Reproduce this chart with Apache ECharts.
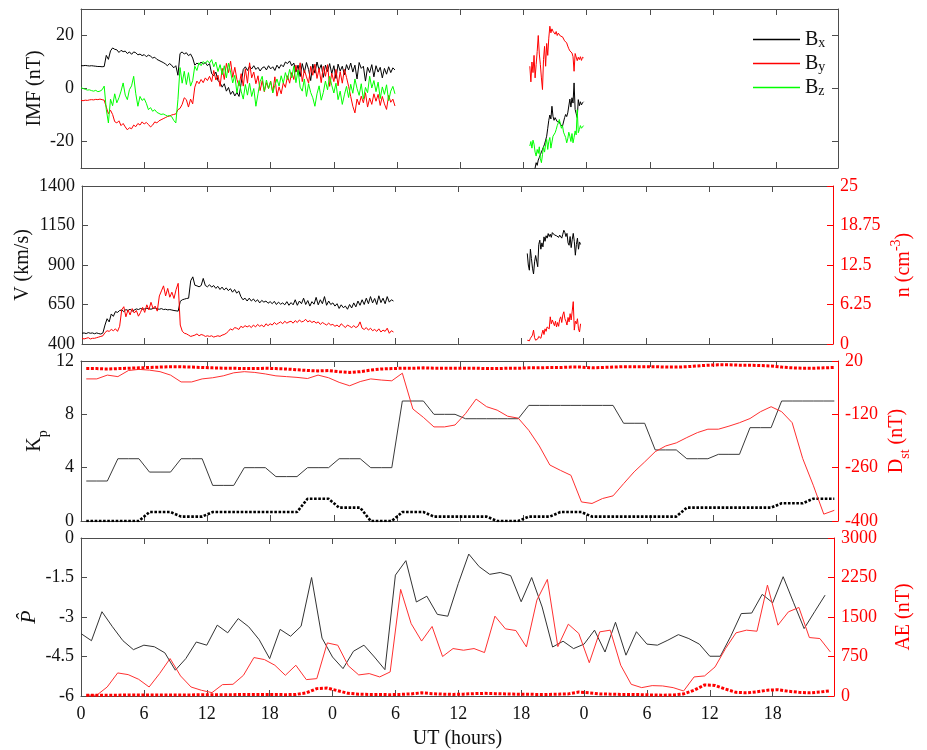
<!DOCTYPE html>
<html>
<head>
<meta charset="utf-8">
<script src="https://cdn.jsdelivr.net/npm/echarts@6/dist/echarts.min.js"></script>
<style>
  html, body { margin: 0; padding: 0; background: #fff; }
  #chart { width: 927px; height: 750px; }
</style>
</head>
<body>
<div id="chart"></div>
<script>
// ---------------- data ----------------
// High-resolution solar wind: first interval sampled every 0.2 h from 0 h,
// second interval sampled every 0.1 h from 42.6 h (UT hours since start).
const seg1Start = 0, seg1Step = 0.2;
const seg2Start = 42.6, seg2Step = 0.1;

// IMF Bx (nT)
const bx1 = [
  8.6, 8.6, 8.7, 8.6, 8.5, 8.6, 8.5, 8.4, 8.3, 8.3,
  8.2, 8.3, 12.5, 11.0, 14.2, 15.3, 14.8, 14.6, 13.6, 14.4,
  13.9, 14.1, 13.2, 13.8, 12.9, 13.8, 13.5, 12.7, 13.0, 12.4,
  12.8, 12.0, 12.6, 12.2, 11.5, 11.8, 11.0, 10.6, 10.2, 9.8,
  9.3, 8.6, 9.4, 8.8, 7.8, 8.6, 5.0, 13.2, 13.8, 13.0,
  13.5, 12.4, 13.0, 11.5, 8.8, 9.6, 9.0, 10.0, 9.2, 9.8,
  8.6, 9.4, 5.6, 4.8, 6.2, 3.0, 2.2, 0.5, 1.8, -1.0,
  0.4, -2.2, -1.0, -2.8, -1.5, -3.0, 2.0, 7.2, 8.2, 6.8,
  8.4, 7.4, 8.6, 7.2, 8.0, 6.6, 7.8, 8.2, 7.0, 8.6,
  7.4, 8.2, 6.8, 8.8, 7.6, 9.0, 8.2, 10.0, 9.4, 10.4,
  8.6, 9.6, 6.2, 8.8, 4.5, 9.4, 6.0, 9.8, 7.2, 3.0,
  9.2, 5.8, 10.0, 7.0, 9.0, 4.2, 8.8, 6.4, 9.4, 5.6,
  8.6, 3.8, 9.2, 6.6, 8.4, 5.2, 9.0, 7.0, 9.6, 6.2,
  8.8, 3.6, 9.8, 7.6, 8.4, 2.8, 8.0, 6.0, 9.0, 4.4,
  8.6, 6.2, 8.0, 4.0, 7.6, 5.4, 8.2, 6.0, 7.8, 7.0
];
const bx2 = [
  -36, -35, -33, -32, -31, -30, -28, -29, -27, -26,
  -25, -24, -23, -22, -21, -19.5, -18, -15, -12, -10,
  -11.5, -6.7, -10.5, -12.0, -11.0, -11.7, -12.5, -13.0, -12.6, -13.6,
  -13.0, -14.2, -13.5, -11.0, -9.8, -10.6, -9.2, -8.5, -4.0, -7.0,
  -3.5, -5.5, 2.1, -7.9, -9.5, -11.0, -4.2, -6.5, -5.0, -6.2,
  -5.4, -5.0
];

// IMF By (nT)
const by1 = [
  -4.5, -4.6, -4.4, -4.5, -4.3, -4.2, -4.3, -4.1, -4.2, -4.0,
  -4.2, -4.4, -7.0, -9.5, -8.2, -9.8, -12.5, -13.0, -12.2, -14.0,
  -13.2, -14.5, -15.6, -14.8, -15.2, -13.8, -14.4, -13.2, -13.8, -12.6,
  -13.4, -12.8, -13.6, -14.5, -13.8, -12.6, -13.0, -12.2, -11.8, -11.4,
  -11.0, -10.6, -10.4, -10.0, -9.8, -9.6, -8.0, -7.5, -6.0, -3.5,
  -4.2, -7.0, -4.0, -5.8, 0.5, 2.8, 1.8, 3.4, 2.2, 4.0,
  3.0, 4.6, 2.6, 6.8, 3.2, 5.0, 0.8, 7.6, 3.4, 9.5,
  6.0, 10.3, 4.2, 8.0, 3.4, 1.0, 5.6, 0.9, 7.4, 2.0,
  9.7, 4.0, 6.2, 1.8, 4.8, -0.8, 3.0, -1.2, 2.2, 0.0,
  2.8, -1.5, 4.4, -2.9, 0.6, -2.0, 2.1, 0.4, 4.8, 2.0,
  6.0, 3.4, 8.8, 5.2, 9.7, 2.6, 7.0, 4.4, 2.0, 8.4,
  5.0, 9.2, 3.8, 7.6, 2.2, 8.4, 4.6, 9.0, 0.8, 5.8,
  2.6, 7.2, 1.0, 6.4, 2.0, 7.2, 4.2, 0.8, -3.0, -6.7,
  -9.2, -4.0, -6.2, -2.9, -5.4, -1.6, -7.0, -3.6, -6.0, -2.0,
  -4.8, -2.2, -6.4, -3.0, -5.8, -7.9, -2.6, -5.2, -4.0, -6.6
];
const by2 = [
  8.4, 2.5, 10.0, 6.0, 12.5, 4.0, 9.0, 14.0, 20.0, 13.0,
  9.0, 4.0, -0.4, 11.0, 15.9, 8.4, 17.0, 12.5, 19.0, 23.5,
  21.0, 22.5, 21.6, 22.0, 20.5, 21.5, 20.0, 20.9, 21.2, 19.8,
  20.4, 19.5, 18.8, 18.0, 17.5, 17.2, 16.0, 15.0, 14.2, 13.6,
  13.4, 12.0, 6.5, 13.2, 12.8, 10.5, 11.8, 10.9, 12.0, 10.6,
  11.8, 11.6
];

// IMF Bz (nT)
const bz1 = [
  0.3, 0.0, -0.3, -0.6, -0.5, -0.8, -1.0, -0.7, -1.2, -1.0,
  -0.5, 0.9, -7.9, -13.0, -4.0, -6.5, -2.0, -5.4, -3.5, -1.0,
  2.1, -2.5, -4.2, -0.4, 1.0, 4.6, -2.0, -6.7, -3.0, -4.5,
  -3.8, -5.6, -8.0, -7.2, -8.6, -8.0, -9.0, -9.4, -9.8, -9.6,
  -10.0, -10.4, -10.2, -10.6, -12.0, -13.0, -4.2, 7.9, 2.0, 6.5,
  1.5, 6.0, 0.9, 3.0, 8.4, 6.8, 9.7, 8.6, 10.2, 9.4,
  10.5, 9.6, 10.9, 8.2, 10.0, 6.4, 9.0, 5.2, 8.6, 4.0,
  9.6, 6.2, 2.1, 5.0, -1.7, 3.0, -1.0, -4.0, 1.5, -2.5,
  2.0, -3.0, 0.0, -6.7, -2.0, 2.6, 4.6, -1.0, 3.2, 0.0,
  2.6, -1.7, 1.2, 3.6, 0.9, 4.8, 2.0, 6.0, 3.4, 7.2,
  4.0, 8.4, 2.2, 7.0, 0.5, -1.0, 3.6, -3.0, 1.8, -1.5,
  -3.5, -6.7, -2.0, 1.0, -4.4, -1.5, 2.8, -0.5, 4.6, 1.2,
  -1.7, 2.0, -4.2, -1.0, -6.0, -2.4, 0.8, -3.4, 1.6, -1.8,
  3.6, 0.0, -2.6, 1.8, -4.0, 0.4, -1.6, 4.6, 0.2, 3.0,
  -1.2, 2.4, -3.8, 0.6, -2.2, 1.4, -4.6, -1.0, 0.8, -2.0
];
const bz2 = [
  -21.7, -20.0, -22.5, -19.5, -21.0, -24.0, -25.5, -23.0, -24.5, -22.0,
  -26.5, -28.0, -25.0, -22.0, -24.0, -21.0, -19.2, -23.0, -20.0, -18.5,
  -22.5, -23.0, -18.0, -17.5, -16.7, -15.5, -14.0, -13.0, -11.7, -13.5,
  -15.0, -14.0, -16.5, -17.5, -18.5, -20.5, -19.0, -16.5, -18.0, -20.0,
  -17.0, -20.5, -18.5, -16.0, -17.5, -8.0, -16.7, -15.5, -14.0, -15.0,
  -14.7, -14.0
];

// Solar wind speed V (km/s)
const v1 = [
  468, 470, 466, 472, 468, 470, 465, 470, 466, 463,
  470, 520, 560, 540, 590, 575, 605, 600, 612, 615,
  605, 618, 612, 620, 608, 615, 622, 618, 625, 620,
  622, 626, 624, 620, 625, 628, 622, 620, 624, 618,
  620, 616, 618, 615, 612, 610, 608, 670, 680, 684,
  688, 690, 800, 825, 772, 768, 762, 770, 815, 770,
  762, 775, 760, 770, 752, 765, 745, 760, 742, 755,
  738, 750, 728, 745, 722, 735, 700, 680, 690, 672,
  690, 672, 685, 668, 680, 660, 676, 665, 672, 658,
  668, 655, 670, 650, 665, 652, 660, 648, 668, 645,
  662, 648, 680, 645, 672, 655, 690, 650, 675, 640,
  668, 652, 695, 648, 680, 655, 700, 645, 672, 650,
  660, 640, 655, 625, 648, 630, 640, 620, 650, 628,
  660, 635, 672, 645, 680, 650, 690, 655, 700, 660,
  688, 650, 705, 662, 690, 655, 700, 665, 680, 672
];
const v2 = [
  973, 900, 867, 1000, 940, 880, 843, 920, 960, 952,
  889, 1030, 1057, 1000, 1040, 1015, 1078, 1050, 1085, 1070,
  1099, 1080, 1095, 1075, 1105, 1110, 1090, 1100, 1085, 1095,
  1075, 1089, 1100, 1070, 1095, 1120, 1105, 1080, 1100, 1040,
  1025, 1080, 1010, 1060, 1100, 1050, 962, 1030, 1070, 1000,
  1046, 1030
];

// Proton density n (cm^-3)
const n1 = [
  0.9, 0.8, 0.9, 1.0, 0.8, 0.9, 0.9, 1.0, 1.1, 1.2,
  1.3, 1.8, 2.1, 2.0, 2.3, 2.1, 2.4, 2.0, 2.8, 5.4,
  5.9, 4.3, 5.4, 4.6, 5.6, 4.9, 5.3, 4.4, 5.0, 5.8,
  5.0, 6.2, 5.4, 6.6, 5.6, 6.0, 5.2, 7.6, 8.4, 9.2,
  7.6, 8.8, 7.4, 8.2, 7.2, 8.6, 9.6, 3.0, 2.0, 1.7,
  1.6, 1.4, 1.2, 1.3, 1.4, 1.6, 1.3, 1.5, 1.4, 1.2,
  1.3, 1.2, 1.3, 1.1, 1.2, 1.3, 1.2, 1.4, 1.5, 1.7,
  2.0, 2.4, 2.2, 2.6, 2.5, 2.3, 2.8, 2.6, 2.9, 2.7,
  2.9, 2.6, 3.0, 2.7, 3.1, 2.8, 3.0, 2.7, 3.2, 2.9,
  3.2, 3.0, 3.4, 3.1, 3.3, 3.5, 3.2, 3.6, 3.3, 3.5,
  3.6, 3.3, 3.7, 3.4, 3.8, 3.5, 3.6, 3.9, 3.5, 3.7,
  3.4, 3.6, 3.3, 3.5, 3.1, 3.4, 3.2, 3.0, 3.3, 3.0,
  3.1, 2.8, 3.0, 2.7, 3.2, 2.9, 2.6, 3.0, 2.8, 2.6,
  2.9, 2.6, 2.8, 3.5, 2.5, 2.3, 2.6, 2.2, 2.5, 2.1,
  2.3, 2.0, 2.4, 1.9, 2.2, 2.0, 2.5, 1.7, 2.1, 1.9
];
const n2 = [
  0.6, 0.8, 0.5, 0.9, 0.7, 1.4, 2.2, 1.0, 0.6, 0.4,
  0.8, 1.2, 1.4, 0.9, 1.6, 2.2, 1.5, 2.4, 2.0, 2.7,
  3.0, 2.4, 4.3, 3.2, 3.8, 3.5, 2.9, 3.6, 2.7, 3.4,
  2.8, 3.9, 4.3, 3.4, 4.6, 5.1, 4.0, 3.6, 3.0, 4.2,
  3.5, 4.8, 3.8, 5.2, 6.7, 2.2, 3.6, 3.2, 4.0, 2.4,
  1.9, 3.2
];

// Hourly indices, hour 0..71
const kp = [
  3, 3, 3, 4.67, 4.67, 4.67, 3.67, 3.67, 3.67, 4.67, 4.67, 4.67,
  2.67, 2.67, 2.67, 4, 4, 4, 3.33, 3.33, 3.33, 4, 4, 4,
  4.67, 4.67, 4.67, 4, 4, 4, 9, 9, 9, 8, 8, 8,
  7.67, 7.67, 7.67, 7.67, 7.67, 7.67, 8.67, 8.67, 8.67, 8.67, 8.67, 8.67,
  8.67, 8.67, 8.67, 7.33, 7.33, 7.33, 5.33, 5.33, 5.33, 4.67, 4.67, 4.67,
  5, 5, 5, 7, 7, 7, 9, 9, 9, 9, 9, 9
];
const kpModel = [
  0, 0, 0, 0, 0, 0, 0.67, 0.67, 0.67, 0.33, 0.33, 0.33,
  0.67, 0.67, 0.67, 0.67, 0.67, 0.67, 0.67, 0.67, 0.67, 1.67, 1.67, 1.67,
  1, 1, 1, 0, 0, 0, 0.67, 0.67, 0.67, 0.33, 0.33, 0.33,
  0.33, 0.33, 0.33, 0, 0, 0, 0.33, 0.33, 0.33, 0.67, 0.67, 0.67,
  0.33, 0.33, 0.33, 0.33, 0.33, 0.33, 0.33, 0.33, 0.33, 1, 1, 1,
  1, 1, 1, 1, 1, 1, 1.33, 1.33, 1.33, 1.67, 1.67, 1.67
];
const dst = [
  -27, -27, -17, -21, -5, -2, -4, -8, -17, -35, -35, -27,
  -24, -19, -11, -8, -10, -14, -19, -21, -23, -26, -17, -24,
  -36, -45, -34, -27, -30, -32, -12, -106, -128, -153, -153, -148,
  -118, -80, -100, -109, -125, -130, -162, -203, -253, -267, -280, -350,
  -354, -341, -334, -302, -271, -245, -218, -203, -195, -181, -168, -159,
  -159, -151, -142, -131, -113, -100, -113, -142, -236, -306, -382, -372
];
const dstModel = [
  0, 0, -1, 0, 1, 2, 3, 4, 5, 5, 4, 3,
  2, 1, 1, 0, 0, 1, 0, -1, -3, -5, -6, -5,
  -8, -10, -8, -4, -1, 0, 1, 1, 2, 1, 1, 1,
  1, 1, 0, 0, 1, 1, 2, 2, 3, 3, 4, 4,
  2, 3, 4, 5, 5, 5, 5, 4, 4, 5, 7, 9,
  10, 10, 9, 9, 8, 7, 4, 2, 1, 1, 2, 3
];
const pHat = [
  -3.63, -3.9, -2.8, -3.37, -3.9, -4.24, -4.07, -4.13, -4.36, -5.02, -4.58, -3.95,
  -4.07, -3.31, -3.6, -3.06, -3.37, -3.86, -4.58, -3.47, -3.73, -3.35, -1.5, -3.8,
  -4.52, -4.96, -4.3, -4.07, -4.52, -5.0, -1.41, -0.86, -2.43, -2.21, -2.9, -2.97,
  -1.73, -0.61, -1.09, -1.38, -1.31, -1.43, -2.42, -1.5, -2.62, -4.14, -3.92, -4.2,
  -4.03, -3.5, -4.33, -3.2, -4.45, -3.56, -4.03, -4.07, -3.88, -3.67, -3.82, -4.03,
  -4.49, -4.49, -3.73, -2.87, -2.85, -2.14, -2.46, -1.47, -2.46, -3.44, -2.8, -2.17
];
const ae = [
  15, 15, 171, 438, 406, 317, 171, 426, 711, 381, 171, 108,
  64, 216, 222, 393, 730, 692, 584, 393, 584, 311, 330, 1008,
  964, 575, 400, 426, 362, 457, 2024, 1375, 1043, 1320, 750, 901,
  869, 901, 825, 1516, 1275, 1243, 932, 1820, 2214, 938, 1364, 1187,
  632, 1218, 1250, 584, 222, 159, 197, 191, 159, 95, 362, 381,
  552, 901, 1199, 1250, 1230, 2106, 1345, 1598, 1681, 1110, 1091, 837
];
const aeModel = [
  15, 15, 15, 15, 20, 20, 20, 20, 20, 20, 20, 25,
  25, 25, 25, 30, 30, 30, 30, 25, 30, 60, 140, 150,
  100, 50, 35, 30, 30, 25, 30, 40, 60, 45, 35, 30,
  35, 45, 50, 45, 40, 35, 35, 30, 30, 35, 40, 75,
  60, 40, 35, 30, 30, 25, 20, 15, 20, 40, 110, 210,
  200, 130, 70, 60, 80, 110, 120, 90, 70, 60, 75, 100
];

// UT axis ticks (hours since start) and their labels
const utTicks = [0, 6, 12, 18, 24, 30, 36, 42, 48, 54, 60, 66];
const utLabels = ['0', '6', '12', '18', '0', '6', '12', '18', '0', '6', '12', '18'];

// ---------------- helpers ----------------
function sampled(start, step, values) {
  return values.map((v, i) => [Math.round((start + i * step) * 100) / 100, v]);
}
function twoSegments(a, b) {
  return sampled(seg1Start, seg1Step, a).concat([[36, '-']], sampled(seg2Start, seg2Step, b));
}
function hourly(values, offset) {
  return values.map((v, i) => [i + offset, v]);
}

const SERIF = 'Liberation Serif, Times New Roman, serif';
const AXIS_GRAY = '#4d4d4d';
const RED = '#ff0000';
const GREEN = '#00ff00';
const X_MAX = 71.85;

const grids = [
  { left: 81, width: 757, top: 9, height: 159 },
  { left: 81, width: 757, top: 186, height: 158 },
  { left: 81, width: 757, top: 361, height: 160 },
  { left: 81, width: 757, top: 538, height: 158 }
];

function xAxisFor(gridIndex, position, withLabels) {
  return {
    type: 'value', gridIndex, position, min: 0, max: X_MAX,
    axisLine: { show: true, onZero: false, lineStyle: { color: AXIS_GRAY, width: 1 } },
    axisTick: { show: true, inside: true, length: 6, customValues: utTicks, lineStyle: { color: AXIS_GRAY } },
    axisLabel: withLabels ? {
      show: true, customValues: utTicks, margin: 9,
      fontFamily: SERIF, fontSize: 18, color: '#111',
      formatter: v => utLabels[utTicks.indexOf(Math.round(v))] ?? ''
    } : { show: false },
    splitLine: { show: false },
    name: withLabels ? 'UT (hours)' : '',
    nameLocation: 'middle', nameGap: 33,
    nameTextStyle: { fontFamily: SERIF, fontSize: 20, color: '#111' }
  };
}

const baseRich = (color) => ({
  sub: { fontFamily: SERIF, fontSize: 14, color, verticalAlign: 'bottom', lineHeight: 30, padding: [10, 0, 0, 0] },
  sup: { fontFamily: SERIF, fontSize: 14, color, verticalAlign: 'top', lineHeight: 30, padding: [0, 0, 10, 0] }
});

function yAxisFor(gridIndex, position, min, max, ticks, opts) {
  const color = opts.color || AXIS_GRAY;
  const labelColor = opts.color || '#111';
  return {
    type: 'value', gridIndex, position, min, max,
    axisLine: { show: true, onZero: false, lineStyle: { color, width: 1 } },
    axisTick: { show: true, inside: true, length: 6, customValues: ticks, lineStyle: { color } },
    axisLabel: opts.labels === false ? { show: false } : {
      show: true, customValues: ticks, margin: 7,
      fontFamily: SERIF, fontSize: 18, color: labelColor,
      formatter: v => String(Math.round(v * 100) / 100)
    },
    splitLine: { show: false },
    name: opts.name || '',
    nameLocation: 'middle',
    nameGap: opts.nameGap || 40,
    nameMoveOverlap: false,
    nameTextStyle: Object.assign({
      fontFamily: SERIF, fontSize: 20, color: labelColor, lineHeight: 30,
      rich: baseRich(labelColor)
    }, opts.nameStyle || {})
  };
}

const xAxes = [
  xAxisFor(0, 'bottom', false), xAxisFor(1, 'bottom', false),
  xAxisFor(2, 'bottom', false), xAxisFor(3, 'bottom', true),
  xAxisFor(0, 'top', false), xAxisFor(1, 'top', false),
  xAxisFor(2, 'top', false), xAxisFor(3, 'top', false)
];

const yAxes = [
  yAxisFor(0, 'left', -30, 30, [-20, 0, 20], { name: 'IMF (nT)', nameGap: 31 }),
  yAxisFor(1, 'left', 400, 1400, [400, 650, 900, 1150, 1400], { name: 'V (km/s)', nameGap: 44 }),
  yAxisFor(2, 'left', 0, 12, [0, 4, 8, 12], { name: 'K{sub|p}', nameGap: 31 }),
  yAxisFor(3, 'left', -6, 0, [-6, -4.5, -3, -1.5, 0], { name: 'P\u0302', nameGap: 37, nameStyle: { fontStyle: 'italic', fontSize: 22 } }),
  yAxisFor(0, 'right', -30, 30, [-20, 0, 20], { labels: false }),
  yAxisFor(1, 'right', 0, 25, [0, 6.25, 12.5, 18.75, 25], { color: RED, name: 'n (cm{sup|-3})', nameGap: 56 }),
  yAxisFor(2, 'right', -400, 20, [-400, -260, -120, 20], { color: RED, name: 'D{sub|st} (nT)', nameGap: 44 }),
  yAxisFor(3, 'right', 0, 3000, [0, 750, 1500, 2250, 3000], { color: RED, name: 'AE (nT)', nameGap: 55 })
];

function lineSeries(name, xi, yi, data, color, extra) {
  return Object.assign({
    name, type: 'line', xAxisIndex: xi, yAxisIndex: yi, data,
    showSymbol: false, symbol: 'none', clip: true, animation: false,
    color,
    lineStyle: { color, width: 1 }, itemStyle: { color }
  }, extra || {});
}
const dotted = (color, w) => ({ lineStyle: { color, width: w, type: [w, 1.6], cap: 'butt' } });

const series = [
  // IMF components
  lineSeries('Bx', 0, 0, twoSegments(bx1, bx2), '#000000'),
  lineSeries('By', 0, 0, twoSegments(by1, by2), RED),
  lineSeries('Bz', 0, 0, twoSegments(bz1, bz2), GREEN),
  // speed and density
  lineSeries('V', 1, 1, twoSegments(v1, v2), '#000000'),
  lineSeries('n', 1, 5, twoSegments(n1, n2), RED),
  // Kp and Dst
  lineSeries('Kp', 2, 2, hourly(kp, 0.5), '#3a3a3a'),
  lineSeries('Kp model', 2, 2, hourly(kpModel, 0.5), '#000000', dotted('#000000', 2.6)),
  lineSeries('Dst', 2, 6, hourly(dst, 0.5), '#ff3030'),
  lineSeries('Dst model', 2, 6, hourly(dstModel, 0.5), RED, dotted(RED, 3)),
  // polar cap potential and AE
  lineSeries('P', 3, 3, hourly(pHat, 0), '#333333'),
  lineSeries('AE', 3, 7, hourly(ae, 0.5), '#ff3030'),
  lineSeries('AE model', 3, 7, hourly(aeModel, 0.5), RED, dotted(RED, 3))
];

const chart = echarts.init(document.getElementById('chart'), null, { renderer: 'canvas' });
chart.setOption({
  backgroundColor: '#ffffff',
  animation: false,
  grid: grids,
  xAxis: xAxes,
  yAxis: yAxes,
  legend: {
    data: [
      { name: 'Bx', icon: 'rect', itemStyle: { color: '#000000' } },
      { name: 'By', icon: 'rect', itemStyle: { color: RED } },
      { name: 'Bz', icon: 'rect', itemStyle: { color: GREEN } }
    ],
    orient: 'vertical',
    left: 748, top: 22,
    itemWidth: 47, itemHeight: 1.5, itemGap: 1,
    selectedMode: false,
    formatter: name => 'B{s|' + name.slice(1) + '}',
    textStyle: {
      fontFamily: SERIF, fontSize: 20, color: '#111', lineHeight: 21, padding: [0, 0, 0, 0],
      rich: { s: { fontFamily: SERIF, fontSize: 14, color: '#111', verticalAlign: 'bottom', lineHeight: 21, padding: [9, 0, 0, 0] } }
    }
  },
  series
});
</script>
</body>
</html>
